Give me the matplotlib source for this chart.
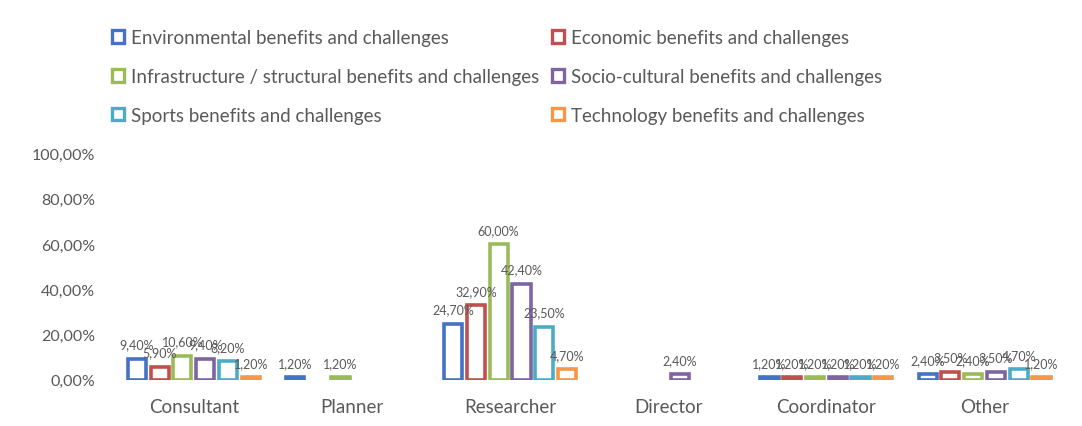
import numpy as np
import matplotlib.pyplot as plt
from matplotlib.patches import Patch

plt.rcParams['font.family'] = ['Lato', 'DejaVu Sans']

roles = ['Consultant', 'Planner', 'Researcher', 'Director', 'Coordinator', 'Other']
series = ['Environmental benefits and challenges',
          'Economic benefits and challenges',
          'Infrastructure / structural benefits and challenges',
          'Socio-cultural benefits and challenges',
          'Sports benefits and challenges',
          'Technology benefits and challenges']
colours = ['#4472C4', '#C0504D', '#9BBB59', '#8064A2', '#4BACC6', '#F79646']

environmental = [9.4, 1.2, 24.7, 0, 1.2, 2.4]
economic = [5.9, 0, 32.9, 0, 1.2, 3.5]
infrastructure = [10.6, 1.2, 60.0, 0, 1.2, 2.4]
sociocultural = [9.4, 0, 42.4, 2.4, 1.2, 3.5]
sports = [8.2, 0, 23.5, 0, 1.2, 4.7]
technology = [1.2, 0, 4.7, 0, 1.2, 1.2]
values = [environmental, economic, infrastructure, sociocultural, sports, technology]

grey = '#595959'


def pct(v):
    return ('%.2f%%' % v).replace('.', ',')


fig = plt.figure(figsize=(10.82, 4.27), dpi=100)
ax = fig.add_axes([0.106, 0.108, 0.877, 0.53])

x = np.arange(len(roles))
step = 0.144
width = 0.115
for i, (vals, col) in enumerate(zip(values, colours)):
    pos = x + (i - 2.5) * step
    for p, v in zip(pos, vals):
        if v == 0:
            continue
        ax.bar(p, v, width, facecolor='white', edgecolor=col, linewidth=2.6)
        ax.annotate(pct(v), (p, v), xytext=(0, 6), textcoords='offset points',
                    ha='center', va='bottom', fontsize=9, color=grey)

ax.set_xlim(-0.5, 5.5)
ax.set_ylim(0, 100)
ticks = np.arange(0, 101, 20)
ax.set_yticks(ticks)
ax.set_yticklabels([pct(t) for t in ticks])
ax.set_xticks(x)
ax.set_xticklabels(roles)
ax.tick_params(axis='x', length=0, labelsize=13.5, colors=grey, pad=13)
ax.tick_params(axis='y', length=0, labelsize=11.5, colors=grey, pad=14)
for s in ax.spines.values():
    s.set_visible(False)

handles = [Patch(facecolor='white', edgecolor=c, linewidth=2.4) for c in colours]
order = [0, 2, 4, 1, 3, 5]
fig.legend([handles[i] for i in order], [series[i] for i in order],
           loc='upper left', bbox_to_anchor=(0.088, 0.969), ncol=2, frameon=False,
           fontsize=13.5, labelcolor=grey, handlelength=0.65, handleheight=0.65,
           handletextpad=0.35, columnspacing=0.7, labelspacing=1.16)

fig.savefig('out.png', dpi=100)
